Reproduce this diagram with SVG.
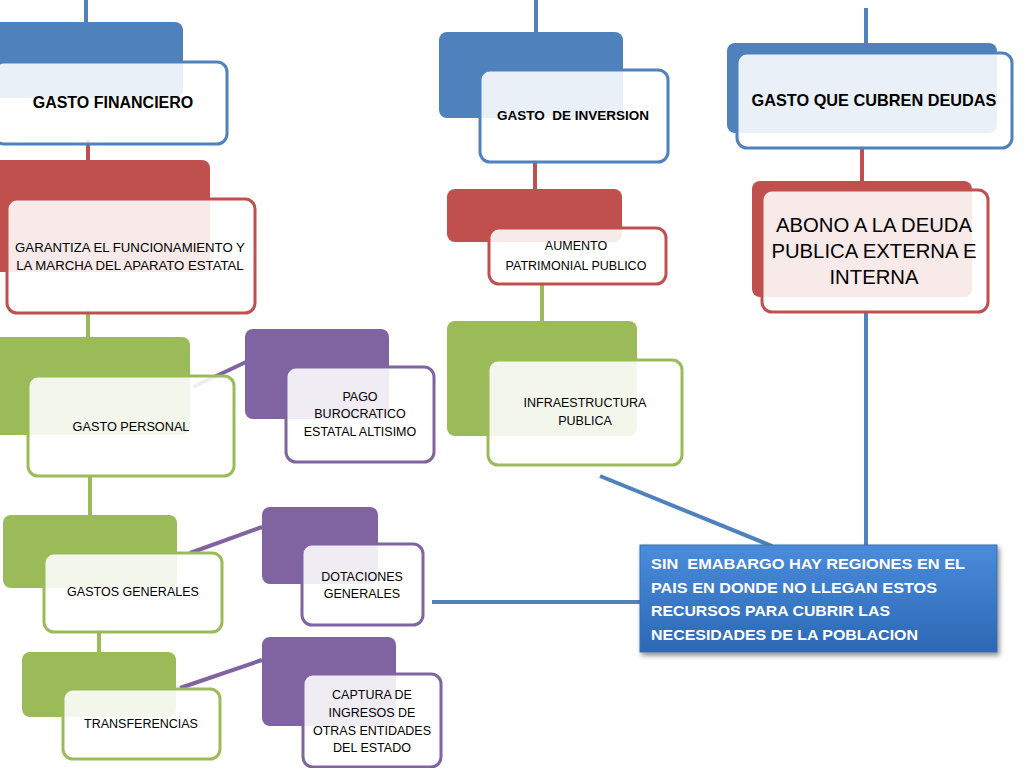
<svg xmlns="http://www.w3.org/2000/svg" width="1024" height="768" viewBox="0 0 1024 768">
<defs>
<linearGradient id="gBlue" x1="0" y1="0" x2="0" y2="1">
<stop offset="0" stop-color="#4A8CDB"/>
<stop offset="1" stop-color="#2C68B4"/>
</linearGradient>
<filter id="sh" x="-10%" y="-10%" width="125%" height="130%">
<feDropShadow dx="2" dy="3" stdDeviation="2.5" flood-color="#000" flood-opacity="0.45"/>
</filter>
<style>
.bb{fill:#4F81BD}.br{fill:#C0504D}.bg{fill:#9BBB59}.bp{fill:#8064A2}
.f{fill:#fff;fill-opacity:0.88;stroke-width:3}
.fb{stroke:#4F81BD}.fr{stroke:#C0504D}.fg{stroke:#9BBB59}.fp{stroke:#8064A2}
.t{font-family:"Liberation Sans",Arial,sans-serif;fill:#000;text-anchor:middle;white-space:pre}
.tb{font-weight:bold}
.c{fill:none;stroke-width:4}
.cb{stroke:#4F81BD}.cr{stroke:#C0504D}.cg{stroke:#9BBB59}.cp{stroke:#8064A2}
.w{font-family:"Liberation Sans",Arial,sans-serif;font-weight:bold;font-size:15.5px;fill:#fff;white-space:pre}
</style>
</defs>
<rect width="1024" height="768" fill="#fff"/>
<g id="connectors">
<line class="c cb" x1="86" y1="0" x2="86" y2="30"/>
<line class="c cr" x1="88" y1="140" x2="88" y2="162"/>
<line class="c cg" x1="88" y1="310" x2="88" y2="340"/>
<line class="c cg" x1="90" y1="475" x2="90" y2="516"/>
<line class="c cg" x1="99" y1="630" x2="99" y2="654"/>
<line class="c cp" x1="193" y1="387" x2="246" y2="362" stroke-width="3"/>
<line class="c cp" x1="190" y1="553" x2="262" y2="527" stroke-width="3"/>
<line class="c cp" x1="180" y1="688" x2="262" y2="660" stroke-width="3"/>
<line class="c cb" x1="536" y1="0" x2="536" y2="34"/>
<line class="c cr" x1="535" y1="160" x2="535" y2="190"/>
<line class="c cg" x1="542" y1="282" x2="542" y2="322"/>
<line class="c cb" x1="866" y1="8" x2="866" y2="46"/>
<line class="c cr" x1="862" y1="146" x2="862" y2="182"/>
<line class="c cb" x1="866" y1="310" x2="866" y2="546"/>
<line class="c cb" x1="600" y1="476" x2="772" y2="546"/>
<line class="c cb" x1="432" y1="602" x2="642" y2="602"/>
</g>
<g id="gasto-financiero">
<rect class="bb" x="-10" y="22" width="193" height="76" rx="8"/>
<rect class="f fb" x="-6" y="62" width="233" height="82" rx="10"/>
<text class="t tb" x="113" y="108" font-size="16">GASTO FINANCIERO</text>
</g>
<g id="garantiza">
<rect class="br" x="-10" y="160" width="220" height="112" rx="8"/>
<rect class="f fr" x="7" y="199" width="248" height="114" rx="10"/>
<text class="t" x="130" y="252" font-size="13.2">GARANTIZA EL FUNCIONAMIENTO Y</text>
<text class="t" x="130" y="270" font-size="13.2">LA MARCHA DEL APARATO ESTATAL</text>
</g>
<g id="gasto-personal">
<rect class="bg" x="-10" y="337" width="200" height="98" rx="8"/>
<rect class="f fg" x="28" y="376" width="206" height="100" rx="10"/>
<text class="t" x="131" y="431" font-size="12.7">GASTO PERSONAL</text>
</g>
<g id="gastos-generales">
<rect class="bg" x="3" y="515" width="174" height="73" rx="8"/>
<rect class="f fg" x="44" y="553" width="178" height="79" rx="10"/>
<text class="t" x="133" y="596" font-size="12.5">GASTOS GENERALES</text>
</g>
<g id="transferencias">
<rect class="bg" x="22" y="652" width="154" height="65" rx="8"/>
<rect class="f fg" x="63" y="689" width="157" height="70" rx="10"/>
<text class="t" x="141" y="728" font-size="12.5">TRANSFERENCIAS</text>
</g>
<g id="pago-burocratico">
<rect class="bp" x="245" y="329" width="144" height="90" rx="8"/>
<rect class="f fp" x="286" y="367" width="148" height="95" rx="10"/>
<text class="t" x="360" y="401" font-size="12.5">PAGO</text>
<text class="t" x="360" y="418" font-size="12.5">BUROCRATICO</text>
<text class="t" x="360" y="436" font-size="12.5">ESTATAL ALTISIMO</text>
</g>
<g id="dotaciones">
<rect class="bp" x="262" y="507" width="116" height="77" rx="8"/>
<rect class="f fp" x="302" y="544" width="121" height="81" rx="10"/>
<text class="t" x="362" y="581" font-size="12.5">DOTACIONES</text>
<text class="t" x="362" y="598" font-size="12.5">GENERALES</text>
</g>
<g id="captura">
<rect class="bp" x="262" y="637" width="134" height="89" rx="8"/>
<rect class="f fp" x="303" y="674" width="138" height="93" rx="10"/>
<text class="t" x="372" y="699" font-size="12.5">CAPTURA DE</text>
<text class="t" x="372" y="717" font-size="12.5">INGRESOS DE</text>
<text class="t" x="372" y="735" font-size="12.5">OTRAS ENTIDADES</text>
<text class="t" x="372" y="752" font-size="12.5">DEL ESTADO</text>
</g>
<g id="gasto-inversion">
<rect class="bb" x="439" y="32" width="184" height="86" rx="8"/>
<rect class="f fb" x="480" y="70" width="188" height="92" rx="10"/>
<text class="t tb" x="573" y="120" font-size="13.5" xml:space="preserve">GASTO  DE INVERSION</text>
</g>
<g id="aumento">
<rect class="br" x="447" y="189" width="175" height="53" rx="8"/>
<rect class="f fr" x="489" y="228" width="177" height="56" rx="10"/>
<text class="t" x="576" y="250" font-size="12.5">AUMENTO</text>
<text class="t" x="576" y="270" font-size="12.5">PATRIMONIAL PUBLICO</text>
</g>
<g id="infraestructura">
<rect class="bg" x="447" y="321" width="190" height="115" rx="8"/>
<rect class="f fg" x="488" y="360" width="194" height="105" rx="10"/>
<text class="t" x="585" y="407" font-size="12.5">INFRAESTRUCTURA</text>
<text class="t" x="585" y="425" font-size="12.5">PUBLICA</text>
</g>
<g id="gasto-deudas">
<rect class="bb" x="727" y="43" width="270" height="90" rx="8"/>
<rect class="f fb" x="737" y="53" width="275" height="95" rx="10"/>
<text class="t tb" x="874" y="106" font-size="16.3">GASTO QUE CUBREN DEUDAS</text>
</g>
<g id="abono">
<rect class="br" x="752" y="181" width="220" height="116" rx="8"/>
<rect class="f fr" x="762" y="190" width="226" height="122" rx="10"/>
<text class="t" x="874" y="232" font-size="20.3">ABONO A LA DEUDA</text>
<text class="t" x="874" y="258" font-size="20.3">PUBLICA EXTERNA E</text>
<text class="t" x="874" y="284" font-size="20.3">INTERNA</text>
</g>
<g id="sin-embargo">
<rect x="640" y="545" width="357" height="107" fill="url(#gBlue)" stroke="#3A6FB0" stroke-width="1" filter="url(#sh)"/>
<text class="w" x="651" y="569" textLength="314" lengthAdjust="spacingAndGlyphs" xml:space="preserve">SIN  EMABARGO HAY REGIONES EN EL</text>
<text class="w" x="651" y="593" textLength="286" lengthAdjust="spacingAndGlyphs">PAIS EN DONDE NO LLEGAN ESTOS</text>
<text class="w" x="651" y="616" textLength="239" lengthAdjust="spacingAndGlyphs">RECURSOS PARA CUBRIR LAS</text>
<text class="w" x="651" y="640" textLength="267" lengthAdjust="spacingAndGlyphs">NECESIDADES DE LA POBLACION</text>
</g>
</svg>
